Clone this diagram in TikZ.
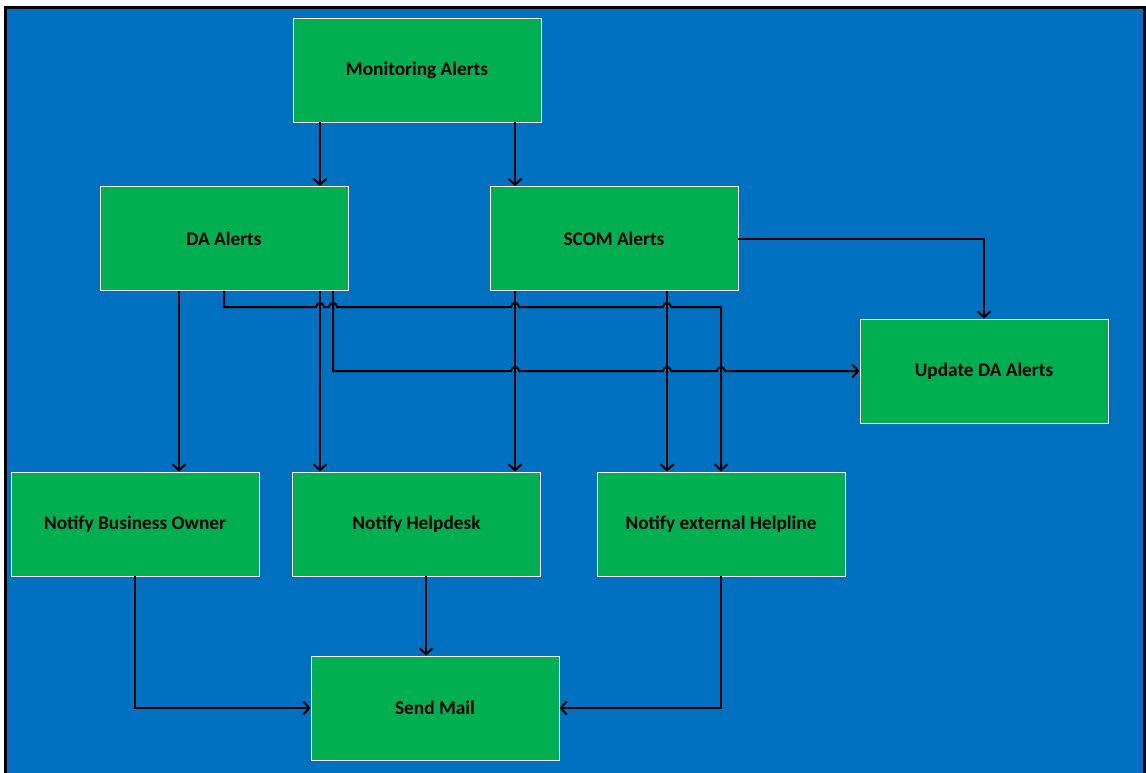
\documentclass[tikz,border=0pt]{standalone}
\usepackage{fontspec}
\setmainfont{Carlito}
\usetikzlibrary{arrows.meta}
\definecolor{bgblue}{HTML}{0070C0}
\definecolor{boxgreen}{HTML}{00B050}
\begin{document}
\begin{tikzpicture}[x=1pt,y=-1pt,
  box/.style={draw=white,line width=0.8pt,fill=boxgreen,minimum width=248pt,minimum height=104pt,inner sep=0pt,font=\fontsize{19.3}{23}\selectfont\bfseries},
  arr/.style={line width=2pt,-{Straight Barb[length=6pt,width=13pt]}},
  wire/.style={line width=2pt}]
\useasboundingbox (0,0) rectangle (1146,773);
\fill[white] (0,0) rectangle (1146,773);
\fill[bgblue] (7,9) rectangle (1143,773);
\draw[line width=3pt] (5.5,773) -- (5.5,7.5) -- (1144.5,7.5) -- (1144.5,773);
% boxes
\node[box] (mon) at (417,70) {Monitoring Alerts};
\node[box] (da) at (224,238.5) {DA Alerts};
\node[box] (scom) at (614,238.5) {SCOM Alerts};
\node[box] (upd) at (984,371) {Update DA Alerts};
\node[box] (nbo) at (135,524) {Notify Business Owner};
\node[box] (nhd) at (416.5,524) {Notify Helpdesk};
\node[box] (neh) at (721,524) {Notify external Helpline};
\node[box] (mail) at (435,708) {Send Mail};
% monitoring
\draw[arr] ([xshift=-97pt]mon.south) -- ([xshift=-97pt]mon.south |- da.north);
\draw[arr] ([xshift=98pt]mon.south) -- ([xshift=98pt]mon.south |- scom.north);
% verticals
\draw[arr] ([xshift=-45pt]da.south) -- ([xshift=-45pt]da.south |- nbo.north);
\draw[arr] ([xshift=96pt]da.south) -- ([xshift=96pt]da.south |- nhd.north);
\draw[arr] ([xshift=-99pt]scom.south) -- ([xshift=-99pt]scom.south |- nhd.north);
\draw[arr] ([xshift=53pt]scom.south) -- ([xshift=53pt]scom.south |- neh.north);
\draw[arr] (scom.east) -| (upd.north);
% with hops
\draw[arr] (da.south) -- (224,307) -- (316,307) arc[start angle=180,end angle=0,radius=4pt]
  -- (329,307) arc[start angle=180,end angle=0,radius=4pt]
  -- (511,307) arc[start angle=180,end angle=0,radius=4pt]
  -- (663,307) arc[start angle=180,end angle=0,radius=4pt]
  -- (721,307) -- (neh.north);
\draw[arr] ([xshift=109pt]da.south) -- (333,371) -- (511,371) arc[start angle=180,end angle=0,radius=4pt]
  -- (663,371) arc[start angle=180,end angle=0,radius=4pt]
  -- (717,371) arc[start angle=180,end angle=0,radius=4pt]
  -- (upd.west);
% send mail
\draw[arr] (nbo.south) |- (mail.west);
\draw[arr] ([xshift=9.5pt]nhd.south) -- ([xshift=9.5pt]nhd.south |- mail.north);
\draw[arr] (neh.south) |- (mail.east);
\end{tikzpicture}
\end{document}
